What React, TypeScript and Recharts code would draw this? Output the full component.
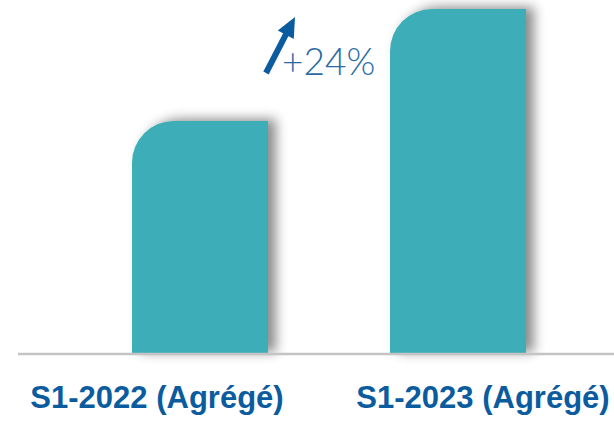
import { BarChart, Bar, XAxis, YAxis, LabelList } from "recharts";

const categories = ["S1-2022 (Agrégé)", "S1-2023 (Agrégé)"];
const values = [100, 124];
const tickShift = [-43, 25];

const data = categories.map((name, i) => ({ name, value: values[i] }));

const TEAL = "#3eaeb8";
const BLUE = "#0b5c9e";

function RoundedBar(props: any) {
  const { x, y, width, height } = props;
  const rx = 42;
  const ry = 42;
  const d = `M${x},${y + height} L${x},${y + ry} A${rx},${ry} 0 0 1 ${x + rx},${y} L${x + width},${y} L${x + width},${y + height} Z`;
  return <path d={d} fill={TEAL} filter="url(#barShadow)" />;
}

function Tick(props: any) {
  const { x, y, payload, index } = props;
  return (
    <text
      x={x + tickShift[index]}
      y={y + 54}
      textAnchor="middle"
      fill={BLUE}
      fontFamily="'Liberation Sans', Arial, sans-serif"
      fontWeight="bold"
      fontSize={31}
    >
      {payload.value}
    </text>
  );
}

function GrowthLabel(props: any) {
  const { x, y, index } = props;
  if (index !== 1) return null;
  const growth = Math.round(((values[1] - values[0]) / values[0]) * 100);
  const tx = x - 124;
  const ty = y + 64;
  const hx = x - 95;
  const hy = y + 8;
  const dx = hx - tx;
  const dy = hy - ty;
  const len = Math.sqrt(dx * dx + dy * dy);
  const ux = dx / len;
  const uy = dy / len;
  const headLen = 20;
  const headW = 9;
  const bx = hx - ux * headLen;
  const by = hy - uy * headLen;
  return (
    <g>
      <line x1={tx} y1={ty} x2={bx + ux * 2} y2={by + uy * 2} stroke={BLUE} strokeWidth={6} />
      <polygon
        points={`${hx},${hy} ${bx - uy * headW},${by + ux * headW} ${bx + uy * headW},${by - ux * headW}`}
        fill={BLUE}
      />
      <text
        x={x - 108}
        y={y + 66}
        fill="#2a6aa3"
        fontFamily="Lato, 'Open Sans', sans-serif"
        fontWeight={300}
        fontSize={37}
      >
        {`+${growth}%`}
      </text>
    </g>
  );
}

export default function App() {
  return (
    <div style={{ position: "absolute", left: 0, top: 0, background: "#fff" }}>
      <BarChart
        width={614}
        height={423}
        data={data}
        margin={{ top: 9, right: 0, left: 18, bottom: 0 }}
        barSize={136}
      >
        <defs>
          <filter id="barShadow" x="-20%" y="-20%" width="160%" height="140%">
            <feDropShadow dx={8} dy={-2} stdDeviation={6} floodColor="#000" floodOpacity={0.45} />
          </filter>
        </defs>
        <YAxis hide domain={[50, 124]} />
        <XAxis
          dataKey="name"
          axisLine={{ stroke: "#c4c4c4", strokeWidth: 2.5 }}
          tickLine={false}
          tickSize={0}
          tickMargin={0}
          height={69}
          padding={{ left: 53, right: 27 }}
          interval={0}
          tick={<Tick />}
        />
        <Bar dataKey="value" shape={<RoundedBar />} isAnimationActive={false}>
          <LabelList dataKey="value" content={<GrowthLabel />} />
        </Bar>
      </BarChart>
    </div>
  );
}
